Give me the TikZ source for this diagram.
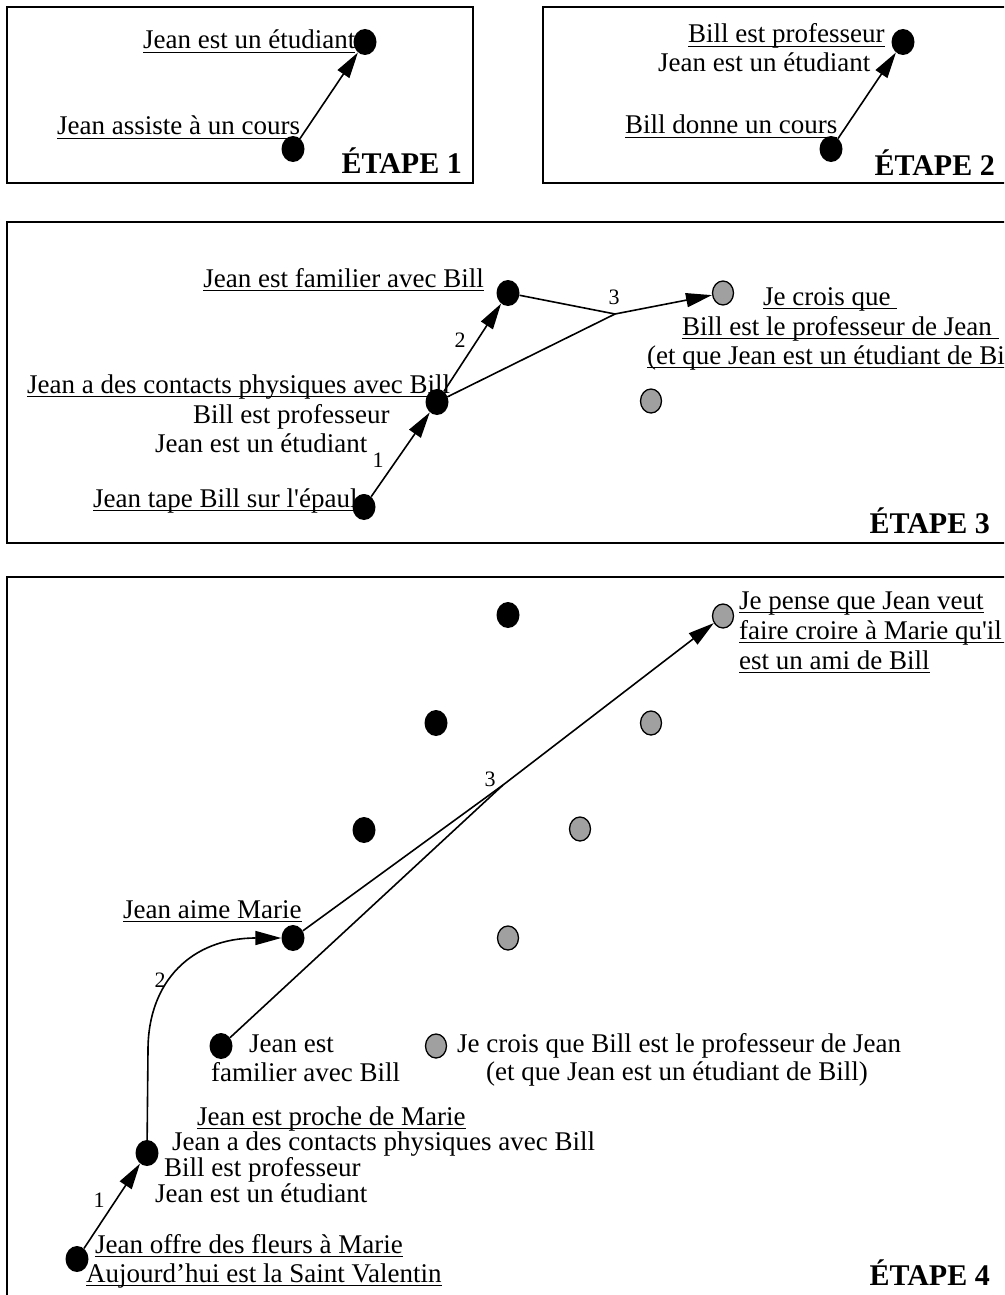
\documentclass[tikz,border=0pt]{standalone}
\usepackage{fontspec}
\setmainfont{Liberation Serif}
\usetikzlibrary{arrows.meta,shapes.geometric}
\definecolor{dotgray}{RGB}{160,160,160}
\newcommand{\ulx}[1]{\setbox0\hbox{#1}\rlap{\rule[-4.2pt]{\wd0}{1.5pt}}\box0}
\begin{document}
\begin{tikzpicture}[x=1pt,y=-1pt,
  txt/.style={anchor=base west, inner sep=0pt, font=\fontsize{27}{30}\selectfont},
  txtr/.style={anchor=base east, inner sep=0pt, font=\fontsize{27}{30}\selectfont},
  num/.style={inner sep=0pt, font=\fontsize{22}{24}\selectfont},
  etape/.style={anchor=base east, inner sep=0pt, font=\fontsize{30}{32}\selectfont\bfseries},
  bdot/.style={ellipse, fill=black, minimum width=23pt, minimum height=26pt, inner sep=0pt},
  gdot/.style={ellipse, fill=dotgray, draw=black, line width=1.3pt, minimum width=21pt, minimum height=24pt, inner sep=0pt},
  arr/.style={line width=1.6pt, -{Triangle[length=26pt,width=14pt]}},
  ln/.style={line width=1.6pt},
  frame/.style={draw=black, line width=2pt}]
\useasboundingbox (0,0) rectangle (1004,1295);
\clip (0,0) rectangle (1004,1295);
\fill[white] (0,0) rectangle (1004,1295);
% frames
\draw[frame] (7,7) rectangle (473,183);
\draw[frame] (543,7) rectangle (1015,183);
\draw[frame] (7,222) rectangle (1015,543);
\draw[frame] (7,577) rectangle (1015,1310);

% ---------- ETAPE 1
\node[txt] (t11) at (143,49) {\ulx{Jean est un étudiant}};
\node[txt] (t12) at (57,135) {\ulx{Jean assiste à un cours}};
\node[etape] (e1) at (462,173) {ÉTAPE 1};
\node[bdot] (a1) at (293,149) {};
\node[bdot] (a2) at (365,42) {};
\draw[arr] (a1) -- (a2);

% ---------- ETAPE 2
\node[txt] (t21) at (688,43) {\ulx{Bill est professeur}};
\node[txt] (t22) at (658,72) {Jean est un étudiant};
\node[txt] (t23) at (625,134) {\ulx{Bill donne un cours}};
\node[etape] (e2) at (995,175) {ÉTAPE 2};
\node[bdot] (b1) at (831,149) {};
\node[bdot] (b2) at (903,42) {};
\draw[arr] (b1) -- (b2);

% ---------- ETAPE 3
\node[txtr] (t31) at (484,287) {\ulx{Jean est familier avec Bill}};
\node[txt] (t32) at (27,393) {\ulx{Jean a des contacts physiques avec Bill}};
\node[txt] (t33) at (193,423) {Bill est professeur};
\node[txt] (t34) at (155,452) {Jean est un étudiant};
\node[txt] (t35) at (93,507) {\ulx{Jean tape Bill sur l\textquotesingle épaule}};
\node[txt] (t36) at (763,305) {\ulx{Je crois que\ }};
\node[txt] (t37) at (682,335) {\ulx{Bill est le professeur de Jean\ }};
\node[txt] (t38) at (647,364) {\ulx{(et que Jean est un étudiant de Bill)}};
\node[etape] (e3) at (990,533) {ÉTAPE 3};
\node[bdot] (c1) at (364,507) {};
\node[bdot] (c2) at (437,402) {};
\node[bdot] (c3) at (508,293) {};
\node[gdot] (g31) at (723,293) {};
\node[gdot] (g32) at (651,401) {};
\coordinate (j3) at (615,314);
\draw[arr] (c1) -- (c2);
\draw[arr] (c2) -- (c3);
\draw[ln] (c3) -- (j3);
\draw[ln] (c2) -- (j3);
\draw[arr] (j3) -- (g31);
\node[num] (n31) at (378,460) {1};
\node[num] (n32) at (460,340) {2};
\node[num] (n33) at (614,297) {3};

% ---------- ETAPE 4
\node[txt] (t41) at (739,609) {\ulx{Je pense que Jean veut}};
\node[txt] (t42) at (739,639) {\ulx{faire croire à Marie qu\textquotesingle il\ }};
\node[txt] (t43) at (739,669) {\ulx{est un ami de Bill}};
\node[txt] (t44) at (123,918) {\ulx{Jean aime Marie}};
\node[txt] (t45) at (249,1052) {Jean est};
\node[txt] (t46) at (211,1081) {familier avec Bill};
\node[txt] (t47) at (457,1052) {Je crois que Bill est le professeur de Jean};
\node[txt] (t48) at (486,1080) {(et que Jean est un étudiant de Bill)};
\node[txt] (t49) at (197,1125) {\ulx{Jean est proche de Marie}};
\node[txt] (t410) at (172,1150) {Jean a des contacts physiques avec Bill};
\node[txt] (t411) at (164,1176) {Bill est professeur};
\node[txt] (t412) at (155,1202) {Jean est un étudiant};
\node[txt] (t413) at (95,1253) {\ulx{Jean offre des fleurs à Marie}};
\node[txt] (t414) at (86,1282) {\ulx{Aujourd’hui est la Saint Valentin}};
\node[etape] (e4) at (990,1285) {ÉTAPE 4};
\node[bdot] (d1) at (508,615) {};
\node[bdot] (d2) at (436,723) {};
\node[bdot] (d3) at (364,830) {};
\node[bdot] (jam) at (293,938) {};
\node[bdot] (fam) at (221,1046) {};
\node[bdot] (pro) at (147,1153) {};
\node[bdot] (off) at (77,1259) {};
\node[gdot] (h1) at (723,616) {};
\node[gdot] (h2) at (651,723) {};
\node[gdot] (h3) at (580,829) {};
\node[gdot] (h4) at (508,938) {};
\node[gdot] (h5) at (436,1046) {};
\coordinate (j4) at (503,785);
\coordinate (k2) at (148,1050);
\draw[arr] (off) -- (pro);
\draw[arr] (pro) -- (k2) .. controls (148,981) and (192,938) .. (jam);
\draw[ln] (jam) -- (j4);
\draw[ln] (fam) -- (j4);
\draw[arr] (j4) -- (h1);
\node[num] (n41) at (99,1200) {1};
\node[num] (n42) at (160,980) {2};
\node[num] (n43) at (490,779) {3};
\end{tikzpicture}
\end{document}
